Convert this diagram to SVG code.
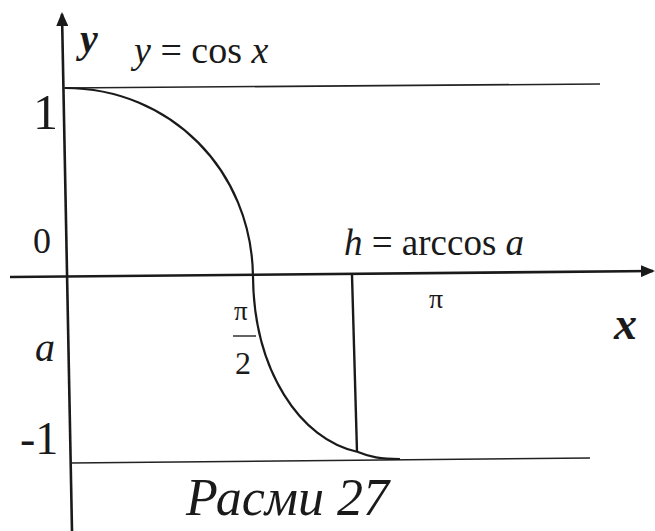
<svg xmlns="http://www.w3.org/2000/svg" width="655" height="531" viewBox="0 0 655 531">
<style>
text{font-family:"Liberation Serif","Times New Roman",serif;fill:#1a1a1a}
.ax{stroke:#1a1a1a;stroke-width:2.6;fill:none}
.thin{stroke:#222;stroke-width:1.6;fill:none}
.crv{stroke:#1a1a1a;stroke-width:2.2;fill:none}
.it{font-style:italic}
</style>
<defs>
<marker id="arr" markerWidth="14" markerHeight="12" refX="12" refY="6" orient="auto" markerUnits="userSpaceOnUse">
<path d="M0,0 L14,6 L0,12 Z" fill="#1a1a1a"/>
</marker>
</defs>
<rect width="655" height="531" fill="#fff"/>
<g id="axes">
<line class="ax" x1="72" y1="531" x2="62" y2="14" marker-end="url(#arr)"/>
<line class="ax" x1="10" y1="277" x2="653" y2="271" marker-end="url(#arr)"/>
</g>
<g id="lines">
<line class="thin" x1="63" y1="88" x2="600" y2="84"/>
<line class="thin" x1="70" y1="463" x2="590" y2="458"/>
<line class="ax" x1="352" y1="275" x2="357" y2="452" style="stroke-width:2.4"/>
<path class="crv" d="M65,88 C170,88 252,170 253,277 C254,370 300,440 358,452 C370,457 380,459 400,459"/>
</g>
<g id="labels">
<text x="80" y="52" font-size="40" font-weight="bold" class="it">y</text>
<text x="134" y="63" font-size="38"><tspan class="it">y</tspan> = cos <tspan class="it">x</tspan></text>
<text x="33" y="129" font-size="50">1</text>
<text x="33" y="253" font-size="36">0</text>
<text x="344" y="255" font-size="37"><tspan class="it">h</tspan> = arccos <tspan class="it">a</tspan></text>
<text x="429" y="308" font-size="28">π</text>
<text x="234" y="320" font-size="27">π</text>
<line class="thin" x1="233" y1="336" x2="256" y2="336" style="stroke-width:1.4"/>
<text x="235" y="374" font-size="32">2</text>
<text x="614" y="339" font-size="46" font-weight="bold" class="it">x</text>
<text x="35" y="361" font-size="40" class="it">a</text>
<text x="20" y="454" font-size="46">-1</text>
<text x="186" y="515" font-size="52" class="it">Расми 27</text>
</g>
</svg>
